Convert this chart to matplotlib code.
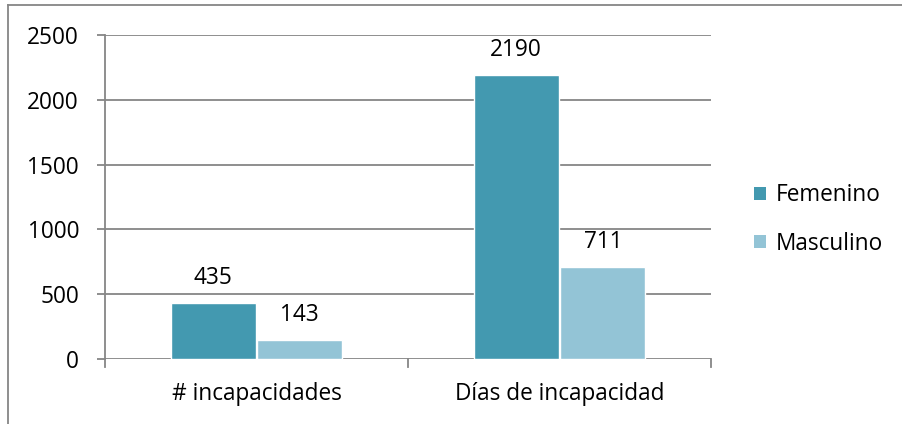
import matplotlib.pyplot as plt
import numpy as np
from matplotlib.lines import Line2D
from matplotlib.patches import Patch

categories = ["# incapacidades", "Días de incapacidad"]
series_names = ["Femenino", "Masculino"]
femenino = [435, 2190]
masculino = [143, 711]
yticks = [0, 500, 1000, 1500, 2000, 2500]

colors = ["#4399B0", "#93C4D6"]
grid_c = "#868686"

plt.rcParams['font.family'] = ['Open Sans', 'DejaVu Sans']
FS = 16.3
PX = 0.72  # points per pixel at 100 dpi

W, H = 902, 424
fig = plt.figure(figsize=(W/100, H/100), dpi=100)
ax = fig.add_axes([105/W, 1-359/H, (711-105)/W, (359-35)/H])

x = np.arange(len(categories))
bw = 0.28
for i, (vals, c, name) in enumerate(zip([femenino, masculino], colors, series_names)):
    pos = x + (i - 0.5) * (bw + 0.006)
    ax.bar(pos, vals, width=bw, color=c, edgecolor="white", linewidth=1.0, zorder=3, label=name)
    for xb, v in zip(pos, vals):
        ax.annotate(str(v), (xb, v), xytext=(0, 25*PX), textcoords="offset points",
                    ha="center", va="center", fontsize=FS, color="black", zorder=4)

ax.set_xlim(-0.5, 1.5)
ax.set_ylim(0, 2500)
ax.set_yticks(yticks)
ax.set_yticklabels([str(t) for t in yticks], fontsize=FS)
for t in yticks:
    ax.axhline(t, color=grid_c, lw=1.3, zorder=1)
ax.tick_params(axis='y', length=8*PX, width=1.3, color=grid_c, pad=18*PX)
ax.set_xticks(x)
ax.set_xticklabels(categories, fontsize=FS)
ax.tick_params(axis='x', length=0, pad=23*PX)
for xb in [-0.5, 0.5, 1.5]:
    ax.plot([xb, xb], [0, -8 / (324/2500)], color=grid_c, lw=1.3, clip_on=False, zorder=2)
for s in ['top', 'right', 'bottom']:
    ax.spines[s].set_visible(False)
ax.spines['left'].set_color(grid_c)
ax.spines['left'].set_linewidth(1.3)

handles = [Patch(facecolor=c, edgecolor='none') for c in colors]
leg = fig.legend(handles, series_names, loc='center left', bbox_to_anchor=(734/W, 1-219.5/H),
                 frameon=False, fontsize=FS, handlelength=0.5, handleheight=0.5,
                 handletextpad=0.45, labelspacing=1.08)

fig.add_artist(Line2D([8/W, 8/W], [0, 1-5/H], color=grid_c, lw=1.3, transform=fig.transFigure))
fig.add_artist(Line2D([8/W, 1], [1-5/H, 1-5/H], color=grid_c, lw=1.3, transform=fig.transFigure))

fig.savefig("out.png", dpi=100)
